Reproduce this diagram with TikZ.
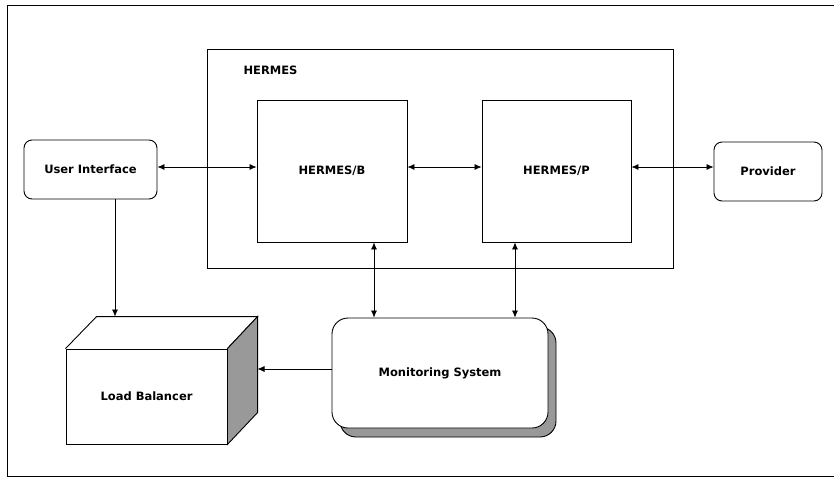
\documentclass[tikz,border=0pt]{standalone}
\usepackage{fontspec}
\setmainfont{DejaVu Sans}
\usetikzlibrary{shapes,arrows.meta,shadows}

\begin{document}
\begin{tikzpicture}[x=1pt,y=-1pt,
    caption/.style={font=\fontsize{11.5}{13}\selectfont\bfseries},
    block/.style={rectangle,draw,line width=0.9pt,caption},
    soft/.style={block,rounded corners=8pt},
    arrow/.style={{Latex[length=7pt,width=6pt]}-{Latex[length=7pt,width=6pt]},line width=0.7pt},
    feed/.style={-{Latex[length=7pt,width=6pt]},line width=0.7pt}]
    \useasboundingbox (0,0) rectangle (834,477);
    \draw[line width=0.9pt] (834,5) -- (7,5) -- (7,476) -- (834,476);
    \node[block,minimum width=466pt,minimum height=219pt] (hermes) at (440,158.5) {};
    \node[caption,anchor=west] (title) at (240,70) {HERMES};
    \node[block,minimum width=150pt,minimum height=142pt] (hb) at (332,171) {HERMES/B};
    \node[block,minimum width=149pt,minimum height=142pt] (hp) at (556.5,171) {HERMES/P};
    \node[soft,minimum width=133pt,minimum height=59pt] (ui) at (90.5,169.5) {User Interface};
    \node[soft,minimum width=108pt,minimum height=59pt] (prov) at (768,171.5) {Provider};
    \node[block,rounded corners=16pt,minimum width=216pt,minimum height=110pt,fill=white,
        drop shadow={shadow xshift=8pt,shadow yshift=-9pt,opacity=1,fill=black!40,draw=black}] (mon) at (440,373) {Monitoring System};
    \node[block,minimum width=161pt,minimum height=95pt] (lb) at (146.5,396.5) {Load Balancer};
    \draw[line width=0.9pt] (lb.north west) -- ++(31,-32) coordinate (lbtl) -- ++(161,0) coordinate (lbtr) -- (lb.north east);
    \draw[line width=0.9pt,fill=black!40] (lb.north east) -- (lbtr) -- ++(0,96) coordinate (lbbr) -- (lb.south east) -- cycle;
    \coordinate (lvl) at (0,167);
    \coordinate (bx) at (374,0);
    \coordinate (px) at (515,0);
    \coordinate (ux) at (115,0);
    \coordinate (my) at (0,369);
    \draw[arrow] (ui.east |- lvl) -- (hb.west |- lvl);
    \draw[arrow] (hb.east |- lvl) -- (hp.west |- lvl);
    \draw[arrow] (hp.east |- lvl) -- (prov.west |- lvl);
    \draw[arrow] (hb.south -| bx) -- (mon.north -| bx);
    \draw[arrow] (hp.south -| px) -- (mon.north -| px);
    \draw[feed] (ui.south -| ux) -- (ux |- lbtl);
    \draw[feed] (mon.west |- my) -- (lbtr |- my);
\end{tikzpicture}
\end{document}
